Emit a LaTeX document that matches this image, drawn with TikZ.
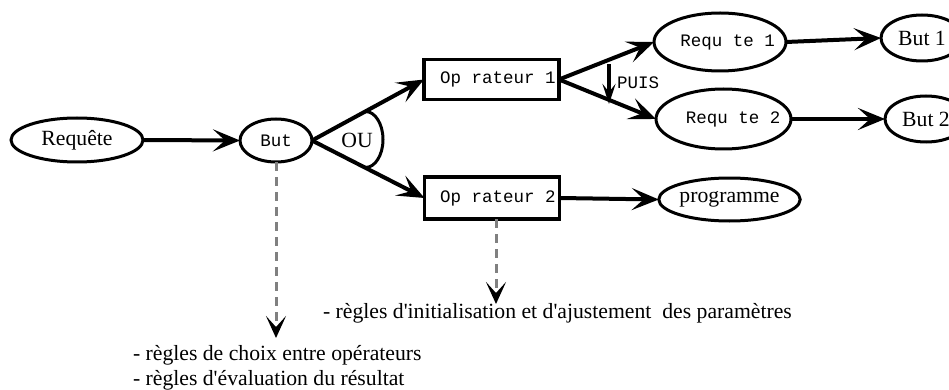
\documentclass[tikz,border=0pt]{standalone}
\usepackage{fontspec}
\setmainfont{Liberation Serif}
\setmonofont{Liberation Mono}
\usetikzlibrary{arrows.meta,shapes.geometric}

\begin{document}
\begin{tikzpicture}[x=1pt,y=-1pt,
  every node/.style={inner sep=0pt, outer sep=0pt},
  serif/.style={font=\fontsize{21.7}{25}\selectfont},
  mono/.style={font=\ttfamily\fontsize{17.5}{20}\selectfont},
  oval/.style={ellipse, draw, line width=3pt, serif},
  opbox/.style={rectangle, draw, line width=3.5pt, minimum width=135pt, minimum height=40pt},
  flow/.style={line width=4pt, -{Stealth[length=27pt,width=22pt,inset=12pt]}},
  rulelink/.style={draw=gray, line width=3pt, dash pattern=on 9pt off 6pt,
    -{Stealth[length=22pt,width=20pt,inset=11pt,black]}},
]
\useasboundingbox (0,0) rectangle (949,390);
\clip (0,0) rectangle (949,390);

% goal decomposition
\node[oval, minimum width=132pt, minimum height=44pt] (req) at (77,140) {Requête};
\node[oval, minimum width=72pt, minimum height=43pt, mono] (but) at (276,140.5) {But};
\node[opbox, label={[mono, xshift=6.5pt]center:Op rateur 1}] (op1) at (491.5,79.5) {};
\node[opbox, minimum height=42pt, label={[mono, xshift=6pt]center:Op rateur 2}] (op2) at (492,198) {};
\node[oval, minimum width=132pt, minimum height=58pt,
      label={[mono, xshift=7.5pt]center:Requ te 1}] (req1) at (720,42) {};
\node[oval, minimum width=135pt, minimum height=60pt,
      label={[mono, xshift=9.5pt]center:Requ te 2}] (req2) at (723.5,119) {};
\node[oval, minimum width=82pt, minimum height=46pt] (but1) at (922,38) {But 1};
\node[oval, minimum width=82pt, minimum height=46pt] (but2) at (926,119) {But 2};
\node[oval, minimum width=135pt, minimum height=43pt] (prog) at (729.5,199.5) {programme};

% alternative (OU) between the operators
\node[serif] (ou) at (357,140) {OU};
\draw[line width=3pt] (365.5,111.5) arc[start angle=-90, end angle=90, x radius=17.5, y radius=28];

% flow connectors
\draw[flow] (req.east) -- (but.west);
\draw[flow] (but.east) -- (op1.west);
\draw[flow] (but.east) -- (op2.west);
\draw[flow] (op1.east) -- (req1.west);
\draw[flow] (op1.east) -- (req2.west);
\draw[flow] (req1.east) -- (but1.west);
\draw[flow] (req2.east) -- (but2.west);
\draw[flow] (op2.east) -- (prog.west);

% sequence (PUIS)
\coordinate (puisA) at (609,64);
\coordinate (puisB) at (609,104);
\draw[line width=3.5pt, -{Stealth[length=20pt,width=13pt,inset=8pt]}] (puisA) -- (puisB);
\node[mono, anchor=west] (puis) at (617,83) {PUIS};

% attached rules
\node[serif, anchor=base west] (rinit) at (323,318)
  {- règles d\textquotesingle initialisation et d\textquotesingle ajustement\ \ des paramètres};
\node[serif, anchor=base west] (rchoix) at (133,360) {- règles de choix entre opérateurs};
\node[serif, anchor=base west] (reval) at (133,385) {- règles d\textquotesingle évaluation du résultat};

\coordinate (tipA) at (276,338);
\coordinate (tipB) at (496,304);
\draw[rulelink] (but.south) -- (tipA);
\draw[rulelink] ([xshift=4pt]op2.south) -- (tipB);
\end{tikzpicture}
\end{document}
